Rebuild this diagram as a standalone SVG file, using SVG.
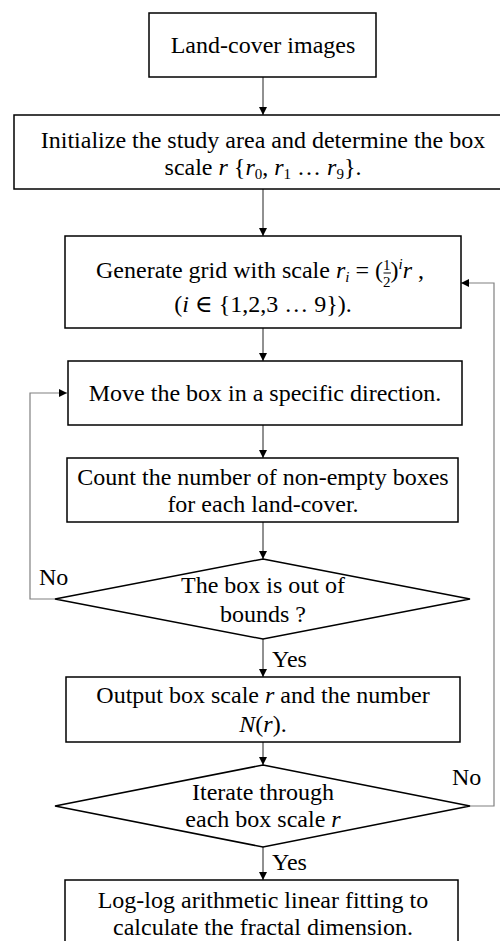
<svg xmlns="http://www.w3.org/2000/svg" width="500" height="941" viewBox="0 0 500 941">
<defs>
<style>
.box{fill:#fff;stroke:#000;stroke-width:1.5}
.t{font-family:"Liberation Serif","DejaVu Serif",serif;font-size:24px;fill:#000}
.m{font-style:italic}
.sub{font-size:15px;font-style:normal}
.sup{font-size:15px;font-style:italic}
.fr{font-size:15px}
.c{fill:none;stroke:#222;stroke-width:1}
.fb{fill:none;stroke:#808080;stroke-width:1.2}
</style>
<marker id="ah" viewBox="0 0 10 10" refX="10" refY="5" markerWidth="8" markerHeight="8" markerUnits="userSpaceOnUse" orient="auto">
<path d="M0,0 L10,5 L0,10 Z" fill="#000"/>
</marker>
</defs>
<rect width="500" height="941" fill="#fff"/>

<g id="connectors">
<line class="c" x1="263" y1="77" x2="263" y2="115" marker-end="url(#ah)"/>
<line class="c" x1="263" y1="189" x2="263" y2="236" marker-end="url(#ah)"/>
<line class="c" x1="263" y1="328" x2="263" y2="361" marker-end="url(#ah)"/>
<line class="c" x1="263" y1="425" x2="263" y2="458" marker-end="url(#ah)"/>
<line class="c" x1="263" y1="522" x2="263" y2="559" marker-end="url(#ah)"/>
<line class="c" x1="263" y1="639" x2="263" y2="677" marker-end="url(#ah)"/>
<line class="c" x1="263" y1="742" x2="263" y2="765" marker-end="url(#ah)"/>
<line class="c" x1="263" y1="847" x2="263" y2="880" marker-end="url(#ah)"/>
<polyline class="fb" points="55,599 30,599 30,393 67,393" marker-end="url(#ah)"/>
<polyline class="fb" points="470,806 494,806 494,283 461,283" marker-end="url(#ah)"/>
<text class="t" x="39" y="585">No</text>
<text class="t" x="272" y="667">Yes</text>
<text class="t" x="452" y="785">No</text>
<text class="t" x="272" y="870">Yes</text>
</g>

<g id="n1">
<rect class="box" x="149" y="13" width="227" height="64"/>
<text class="t" x="263" y="53" text-anchor="middle">Land-cover images</text>
</g>

<g id="n2">
<rect class="box" x="14" y="115" width="497" height="74"/>
<text class="t" x="263" y="148" text-anchor="middle">Initialize the study area and determine the box</text>
<text class="t" x="263" y="175" text-anchor="middle">scale <tspan class="m">r</tspan> {<tspan class="m">r</tspan><tspan class="sub" dy="4">0</tspan><tspan dy="-4">, </tspan><tspan class="m">r</tspan><tspan class="sub" dy="4">1</tspan><tspan dy="-4"> … </tspan><tspan class="m">r</tspan><tspan class="sub" dy="4">9</tspan><tspan dy="-4">}.</tspan></text>
</g>

<g id="n3">
<rect class="box" x="65" y="236" width="396" height="92"/>
<text class="t" x="96" y="278">Generate grid with scale <tspan class="m">r</tspan><tspan class="sup" dy="4">i</tspan><tspan dy="-4"> = (</tspan><tspan class="fr" dy="-8">1</tspan><tspan class="fr" dx="-7.5" dy="17">2</tspan><tspan dy="-9">)</tspan><tspan class="sup" dy="-9">i</tspan><tspan class="m" dy="9">r</tspan> ,</text>
<line x1="383.5" y1="273" x2="391" y2="273" stroke="#000" stroke-width="1"/>
<text class="t" x="263" y="312" text-anchor="middle">(<tspan class="m">i</tspan> ∈ {1,2,3 … 9}).</text>
</g>

<g id="n4">
<rect class="box" x="68" y="361" width="394" height="64"/>
<text class="t" x="265" y="401" text-anchor="middle">Move the box in a specific direction.</text>
</g>

<g id="n5">
<rect class="box" x="67" y="458" width="391" height="64"/>
<text class="t" x="263" y="485" text-anchor="middle">Count the number of non-empty boxes</text>
<text class="t" x="263" y="512" text-anchor="middle">for each land-cover.</text>
</g>

<g id="n6">
<polygon class="box" points="263,559 470,599 263,639 55,599"/>
<text class="t" x="263" y="593" text-anchor="middle">The box is out of</text>
<text class="t" x="263" y="622" text-anchor="middle">bounds ?</text>
</g>

<g id="n7">
<rect class="box" x="66" y="677" width="394" height="65"/>
<text class="t" x="263" y="703" text-anchor="middle">Output box scale <tspan class="m">r</tspan> and the number</text>
<text class="t" x="263" y="732" text-anchor="middle"><tspan class="m">N</tspan>(<tspan class="m">r</tspan>).</text>
</g>

<g id="n8">
<polygon class="box" points="263,765 470,806 263,847 55,806"/>
<text class="t" x="263" y="800" text-anchor="middle">Iterate through</text>
<text class="t" x="263" y="827" text-anchor="middle">each box scale <tspan class="m">r</tspan></text>
</g>

<g id="n9">
<rect class="box" x="65" y="880" width="393" height="75"/>
<text class="t" x="263" y="908" text-anchor="middle">Log-log arithmetic linear fitting to</text>
<text class="t" x="263" y="935" text-anchor="middle">calculate the fractal dimension.</text>
</g>
</svg>
